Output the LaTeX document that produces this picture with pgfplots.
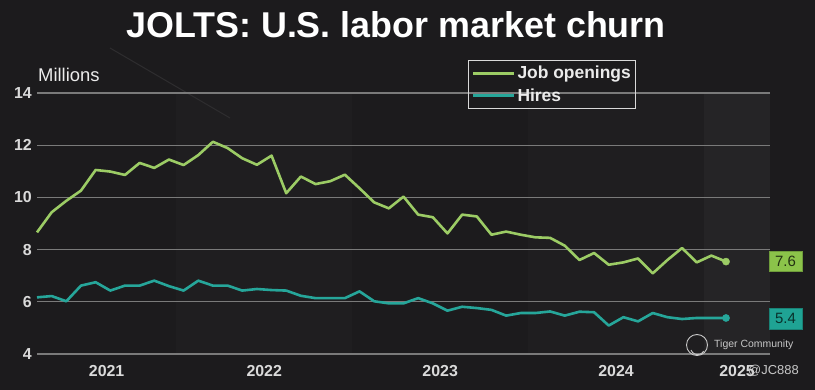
\documentclass[border=0pt]{standalone}
\usepackage{fontspec}
\setmainfont{Liberation Sans}
\usepackage{pgfplots}
\pgfplotsset{compat=1.18}
\definecolor{bg}{HTML}{1C1B1D}
\definecolor{bandlight}{HTML}{1F1E20}
\definecolor{gridc}{HTML}{7A7A7A}
\definecolor{jobc}{HTML}{9CCC65}
\definecolor{hirec}{HTML}{26A69A}
\definecolor{jobbox}{HTML}{8BC34A}
\definecolor{hirebox}{HTML}{1FA394}
\definecolor{ticktxt}{HTML}{DADADA}
\begin{document}
\begin{tikzpicture}
\fill[bg] (0bp,0bp) rectangle (815bp,390bp);
\useasboundingbox (0bp,0bp) rectangle (815bp,390bp);
\fill[bandlight] (176.3bp,36bp) rectangle (352.2bp,297bp);
\fill[bandlight] (528.1bp,36bp) rectangle (704bp,297bp);
\fill[white!4!bg] (704bp,36bp) rectangle (770bp,297bp);
\draw[white!8!bg, line width=1bp] (110bp,342bp) -- (230bp,272bp);
\node[anchor=base, text=white, font=\fontsize{36}{40}\selectfont\bfseries] at (396bp,352bp) {JOLTS: U.S. labor market churn};
\node[anchor=base west, text=white!92!black, inner sep=0pt, font=\fontsize{18.5}{20}\selectfont] at (38bp,308bp) {Millions};
\begin{axis}[
  at={(37bp,36bp)}, anchor=south west,
  scale only axis, width=733bp, height=261bp,
  xmin=2, xmax=52, ymin=4, ymax=14,
  axis line style={draw=none},
  major tick length=0pt,
  ytick={4,6,8,10,12,14},
  ymajorgrids, grid style={gridc, line width=1.3bp},
  xtick={6.75,17.5,29.5,41.5,49.75},
  xticklabels={2021,2022,2023,2024,2025},
  /pgf/number format/assume math mode=true,
  yticklabel style={font=\fontsize{16}{18}\selectfont\bfseries, text=ticktxt, inner sep=0pt, anchor=east, xshift=-5bp},
  xticklabel style={font=\fontsize{16}{18}\selectfont\bfseries, text=ticktxt, inner sep=0pt, anchor=north, yshift=-11bp},
  clip=false,
  legend style={at={(axis description cs:0.588,1.1264)}, anchor=north west,
    draw=white!85!black, line width=1bp, fill=none,
    font=\fontsize{17.5}{19}\selectfont\bfseries, text=white!92!black,
    inner xsep=3bp, inner ysep=3.5bp, row sep=4.5bp,
    nodes={inner sep=2bp}},
  legend cell align=left,
  legend image code/.code={\draw[#1, line width=3bp] (0bp,0bp) -- (41bp,0bp);},
]
\addplot[jobc, line width=2.6bp, line join=round] coordinates {
(2,8.66) (3,9.43) (4,9.87) (5,10.26) (6,11.05) (7,10.99) (8,10.86) (9,11.32) (10,11.13) (11,11.45)
(12,11.24) (13,11.62) (14,12.13) (15,11.89) (16,11.50) (17,11.25) (18,11.60) (19,10.16) (20,10.80) (21,10.51)
(22,10.62) (23,10.87) (24,10.35) (25,9.81) (26,9.58) (27,10.03) (28,9.34) (29,9.24) (30,8.62) (31,9.34)
(32,9.27) (33,8.57) (34,8.69) (35,8.57) (36,8.47) (37,8.45) (38,8.15) (39,7.60) (40,7.87) (41,7.42)
(42,7.51) (43,7.66) (44,7.09) (45,7.60) (46,8.06) (47,7.51) (48,7.77) (49,7.54)};
\addlegendentry{Job openings}
\addplot[hirec, line width=2.6bp, line join=round] coordinates {
(2,6.17) (3,6.22) (4,6.02) (5,6.62) (6,6.75) (7,6.43) (8,6.62) (9,6.62) (10,6.81) (11,6.60)
(12,6.43) (13,6.81) (14,6.62) (15,6.62) (16,6.43) (17,6.49) (18,6.45) (19,6.43) (20,6.23) (21,6.14)
(22,6.14) (23,6.14) (24,6.40) (25,6.02) (26,5.94) (27,5.94) (28,6.14) (29,5.94) (30,5.66) (31,5.81)
(32,5.76) (33,5.69) (34,5.47) (35,5.57) (36,5.57) (37,5.63) (38,5.47) (39,5.62) (40,5.60) (41,5.09)
(42,5.41) (43,5.25) (44,5.57) (45,5.41) (46,5.34) (47,5.38) (48,5.38) (49,5.38)};
\addlegendentry{Hires}
\addplot[only marks, mark=*, mark size=3.6bp, jobc, forget plot] coordinates {(49,7.54)};
\addplot[only marks, mark=*, mark size=3.6bp, hirec, forget plot] coordinates {(49,5.38)};
\node[fill=jobbox, draw=jobbox!80!black, text=black!75!jobbox, minimum width=33bp, minimum height=20bp, inner sep=0pt, font=\fontsize{15}{16}\selectfont] at (axis cs:53.06,7.54) {7.6};
\node[fill=hirebox, draw=hirebox!80!black, text=black!70!hirebox, minimum width=33bp, minimum height=21bp, inner sep=0pt, font=\fontsize{15}{16}\selectfont] at (axis cs:53.06,5.36) {5.4};
\end{axis}
\draw[white!78!black, line width=0.9bp] (697bp,45bp) circle (10.5bp);
\draw[white!78!black, line width=0.9bp] (691bp,40bp) arc (200:330:7bp);
\node[anchor=west, text=white!78!black, inner sep=0pt, font=\fontsize{10.5}{12}\selectfont] at (714bp,45bp) {Tiger Community};
\node[anchor=east, text=white!78!black, inner sep=0pt, font=\fontsize{13}{14}\selectfont] at (799bp,19bp) {@JC888};
\end{tikzpicture}
\end{document}
